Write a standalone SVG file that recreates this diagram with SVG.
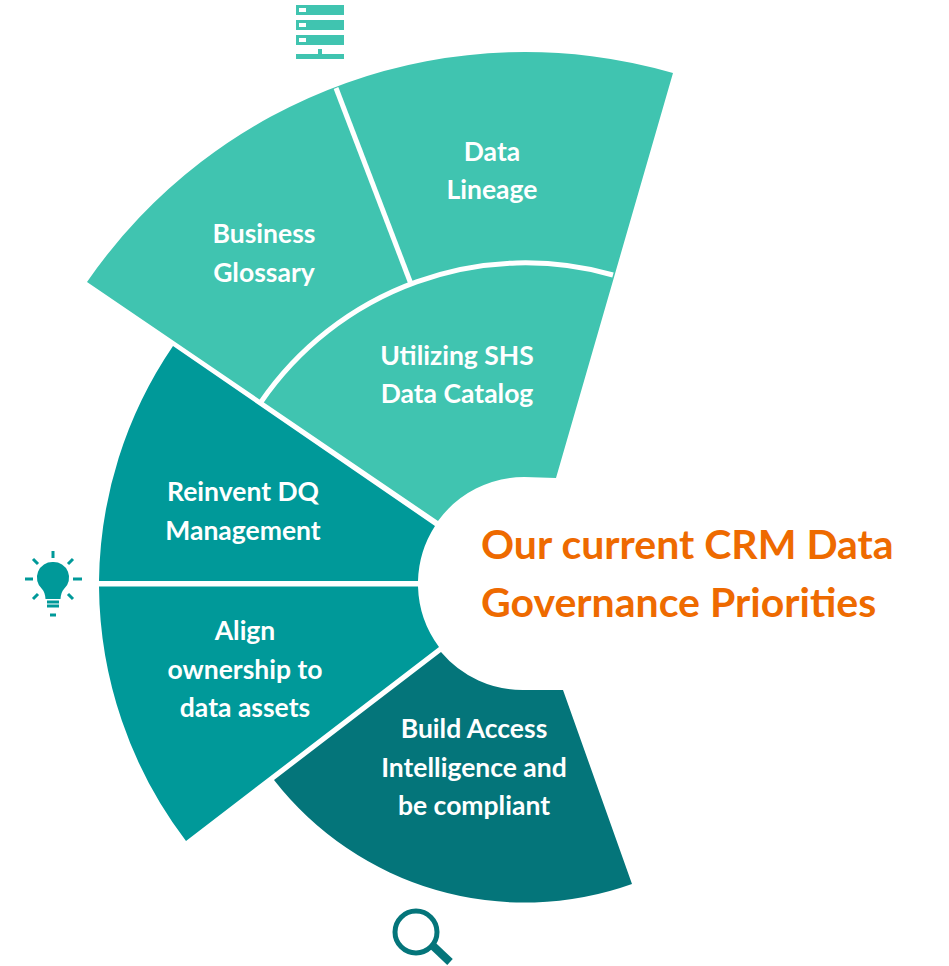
<svg xmlns="http://www.w3.org/2000/svg" width="949" height="966" viewBox="0 0 949 966">
<style>
.l{fill:#40C4B0}.m{fill:#009999}.d{fill:#04757A}
.sep{fill:none;stroke:#fff;stroke-width:5}
text{font-family:"Lato","Open Sans","Liberation Sans",sans-serif;font-weight:700}
.t{fill:#fff;font-size:26.5px;text-anchor:middle}
.h{fill:#EE6A00;font-size:41px}
.ray{stroke:#009999;stroke-width:3;stroke-linecap:butt;fill:none}
</style>
<rect width="949" height="966" fill="#fff"/>
<g id="connectors">
</g>
<g id="sector-priorities-top">
<path class="l" d="M556,478 L673,73 A532,532 0 0 0 87,282 L438,521 A106.5,106.5 0 0 1 524.500,477 Z"/>
</g>
<g id="separators">
<path class="sep" d="M336,88 L411,284"/>
<path class="sep" d="M261,402 A321,321 0 0 1 613,275"/>
</g>
<g id="node-data-lineage"><text class="t"><tspan x="492" y="161">Data</tspan><tspan x="492" y="199">Lineage</tspan></text></g>
<g id="node-business-glossary"><text class="t"><tspan x="264" y="243">Business</tspan><tspan x="264" y="282">Glossary</tspan></text></g>
<g id="node-data-catalog"><text class="t"><tspan x="457" y="365">Utilizing SHS</tspan><tspan x="457" y="403">Data Catalog</tspan></text></g>
<g id="node-reinvent-dq">
<path class="m" d="M173,346 L435,526 A106.5,106.5 0 0 0 418,581 L99,581 A426,426 0 0 1 173,346 Z"/>
<text class="t"><tspan x="243" y="501">Reinvent DQ</tspan><tspan x="243" y="540">Management</tspan></text>
</g>
<g id="node-align-ownership">
<path class="m" d="M99,586.500 L418,586.500 A106.500,106.500 0 0 0 439,647 L186,841 A426,426 0 0 1 99,586.500 Z"/>
<text class="t"><tspan x="245" y="640">Align</tspan><tspan x="245" y="679">ownership to</tspan><tspan x="245" y="717">data assets</tspan></text>
</g>
<g id="node-access-intelligence">
<path class="d" d="M441,652 L274,780 A318,318 0 0 0 632,884 L563,690 L524.500,690 A106.500,106.500 0 0 1 441,652 Z"/>
<text class="t"><tspan x="474" y="738">Build Access</tspan><tspan x="474" y="777">Intelligence and</tspan><tspan x="474" y="815">be compliant</tspan></text>
</g>
<g id="title"><text class="h"><tspan x="481" y="559">Our current CRM Data</tspan><tspan x="481" y="617">Governance Priorities</tspan></text></g>
<g id="icon-server">
<path class="l" d="M296,5H344V15H296ZM296,20H344V30H296ZM296,35H344V45H296ZM318,49H322V54H344V59H296V54H318Z"/>
<path fill="#fff" d="M299,8H306V12H299ZM299,23H306V27H299ZM299,38H306V42H299Z"/>
</g>
<g id="icon-bulb">
<path class="m" d="M53,562 A15.500,15.500 0 0 1 64,589 Q61,592 60.500,599 H45.500 Q45,592 42,589 A15.500,15.500 0 0 1 53,562 Z"/>
<path class="ray" d="M53,551V558M33,559L38,564M73,559L68,564M25,579H33M73,579H82M33,599L38,594M73,599L68,594M47,602H59M47,606H59"/>
<path class="ray" d="M50,615H56"/>
</g>
<g id="icon-magnifier">
<circle cx="416" cy="932" r="21" fill="none" stroke="#04757A" stroke-width="5"/>
<path fill="none" stroke="#04757A" stroke-width="8" d="M432,945L450,962"/>
</g>
</svg>
